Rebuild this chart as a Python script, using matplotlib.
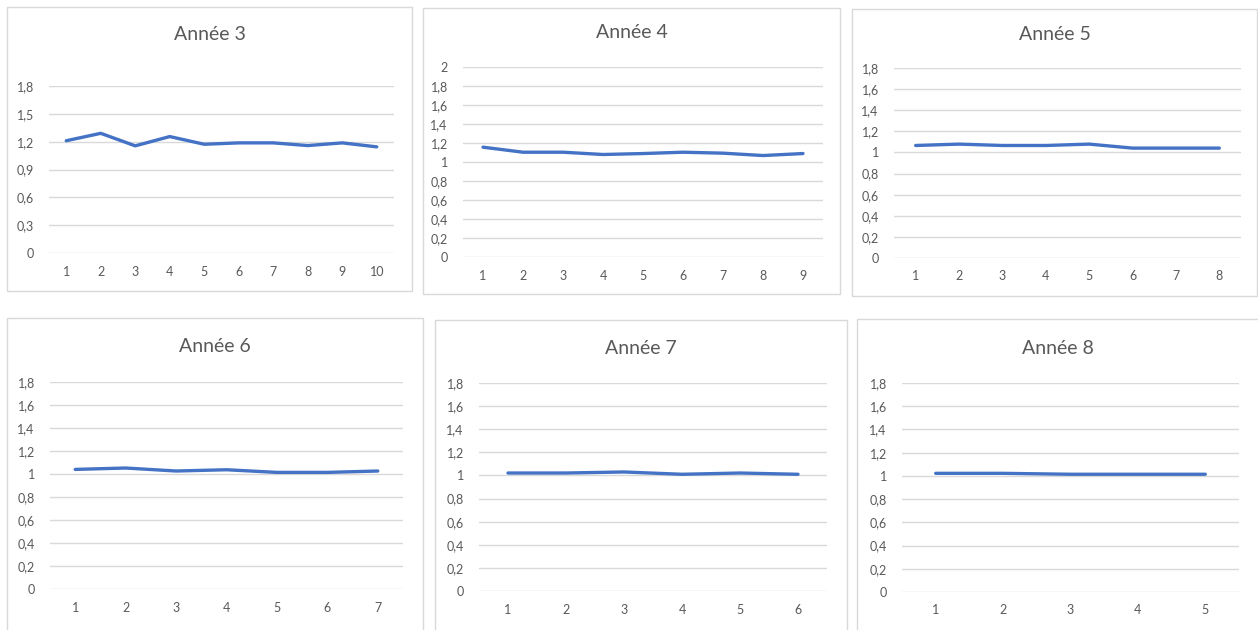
import matplotlib
matplotlib.use("Agg")
import matplotlib.pyplot as plt
from matplotlib.patches import Rectangle

plt.rcParams['font.family'] = ['Lato', 'DejaVu Sans']

# Series per year (value for each period)
titles = ["Année 3", "Année 4", "Année 5", "Année 6", "Année 7", "Année 8"]
annee3 = [1.21, 1.29, 1.155, 1.255, 1.172, 1.187, 1.187, 1.158, 1.187, 1.144]
annee4 = [1.156, 1.103, 1.103, 1.079, 1.089, 1.103, 1.093, 1.068, 1.089]
annee5 = [1.066, 1.079, 1.066, 1.066, 1.079, 1.041, 1.041, 1.041]
annee6 = [1.040, 1.052, 1.026, 1.037, 1.014, 1.014, 1.026]
annee7 = [1.021, 1.021, 1.030, 1.010, 1.021, 1.010]
annee8 = [1.022, 1.022, 1.014, 1.014, 1.014]
series = [annee3, annee4, annee5, annee6, annee7, annee8]

# y-axis ticks per chart
yticks3 = [0, 0.3, 0.6, 0.9, 1.2, 1.5, 1.8]
yticks4 = [0, 0.2, 0.4, 0.6, 0.8, 1.0, 1.2, 1.4, 1.6, 1.8, 2.0]
yticks_std = [0, 0.2, 0.4, 0.6, 0.8, 1.0, 1.2, 1.4, 1.6, 1.8]
yticks_all = [yticks3, yticks4, yticks_std, yticks_std, yticks_std, yticks_std]

W, H = 1258, 630
fig = plt.figure(figsize=(W / 100, H / 100), dpi=100)
fig.patch.set_facecolor("white")

# chart frames (x0, y0, x1, y1) and plot areas (x0, y0, x1, y1) in pixels from top-left
frames = [(7, 7, 412, 291), (423, 8, 840, 294), (852, 9, 1257, 296),
          (7, 318, 423, 640), (435, 320, 847, 640), (857, 319, 1262, 640)]
plots = [(49, 86, 394, 253), (463, 67, 823, 257), (894, 68, 1241, 258),
         (50, 382, 403, 589), (479, 383, 827, 591), (902, 383, 1239, 592)]
title_y = [35, 33, 35, 346, 348, 348]

grid_c = "#D9D9D9"
text_c = "#595959"
line_c = "#4472C4"


def fmt(v):
    s = f"{v:.1f}".rstrip("0").rstrip(".")
    return s.replace(".", ",")


for (fx0, fy0, fx1, fy1) in frames:
    fig.add_artist(Rectangle((fx0 / W, 1 - fy1 / H), (fx1 - fx0) / W, (fy1 - fy0) / H,
                             transform=fig.transFigure, fill=False,
                             edgecolor=grid_c, linewidth=1.0))

for i, vals in enumerate(series):
    px0, py0, px1, py1 = plots[i]
    ax = fig.add_axes([px0 / W, 1 - py1 / H, (px1 - px0) / W, (py1 - py0) / H])
    ax.set_facecolor("none")
    x = list(range(1, len(vals) + 1))
    ticks = yticks_all[i]
    for t in ticks:
        ax.axhline(t, color=grid_c, linewidth=1.0, zorder=1)
    ax.plot(x, vals, color=line_c, linewidth=2.4, solid_capstyle="round",
            solid_joinstyle="round", zorder=3)
    ax.set_xlim(0.5, len(vals) + 0.5)
    ax.set_ylim(ticks[0], ticks[-1])
    ax.set_yticks(ticks, [fmt(t) for t in ticks])
    ax.set_xticks(x, [str(k) for k in x])
    for s in ax.spines.values():
        s.set_visible(False)
    ax.tick_params(axis="y", length=0, pad=11, labelsize=9, labelcolor=text_c)
    ax.tick_params(axis="x", length=0, pad=9, labelsize=9, labelcolor=text_c)
    fx0, fy0, fx1, fy1 = frames[i]
    cx = ((fx0 + min(fx1, W)) / 2) / W
    fig.text(cx, 1 - title_y[i] / H, titles[i], ha="center", va="center",
             fontsize=14, color=text_c)

fig.savefig("out.png", dpi=100)
